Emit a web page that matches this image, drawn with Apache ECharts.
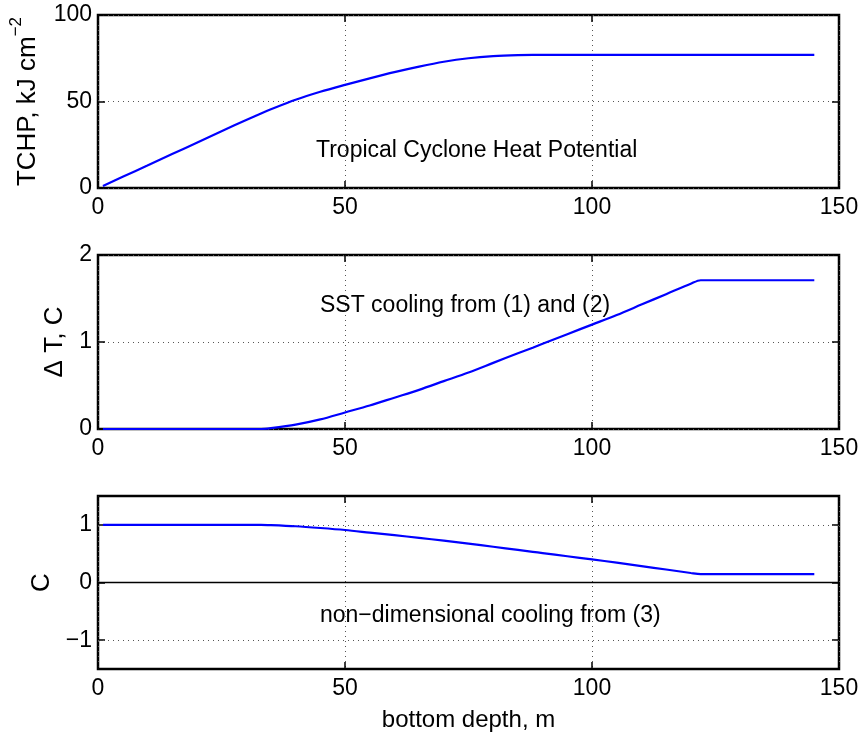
<!DOCTYPE html>
<html>
<head>
<meta charset="utf-8">
<title>TCHP / SST cooling</title>
<script src="https://cdn.jsdelivr.net/npm/echarts@6.0.0/dist/echarts.min.js"></script>
<style>
  html, body { margin: 0; padding: 0; background: #fff; }
  #chart { width: 862px; height: 736px; }
</style>
</head>
<body>
<div id="chart"></div>
<script>
// bottom depth, m (same x for all three panels)
const depth = [1, 5, 10, 15, 20, 25, 30, 33, 35, 40, 45, 50, 55, 60, 65, 70, 75, 80, 85, 88, 90, 95,
  100, 105, 110, 115, 120, 122, 125, 130, 135, 140, 145]
// top panel: TCHP, kJ cm^-2
const tchp = [1.2, 6.5, 13, 19.6, 26.2, 32.8, 39.3, 43.1, 45.5, 51.0, 55.6, 59.6, 63.4, 67.0, 70.2, 73.0, 75.0,
  76.2, 76.8, 76.9, 76.9, 76.9, 76.9, 76.9, 76.9, 76.9, 76.9, 76.9, 76.9, 76.9, 76.9, 76.9, 76.9]
// middle panel: delta T, C
const deltaT = [0, 0, 0, 0, 0, 0, 0, 0, 0.01, 0.05, 0.11, 0.19, 0.27, 0.36, 0.45, 0.55, 0.65,
  0.76, 0.87, 0.935, 0.98, 1.09, 1.2, 1.31, 1.43, 1.55, 1.67, 1.71, 1.71, 1.71, 1.71, 1.71, 1.71]
// bottom panel: non-dimensional cooling C
const coolC = [1, 1, 1, 1, 1, 1, 1, 1, 0.995, 0.975, 0.945, 0.91, 0.865, 0.82, 0.775, 0.725, 0.675,
  0.62, 0.565, 0.532, 0.51, 0.455, 0.4, 0.345, 0.285, 0.225, 0.165, 0.145, 0.145, 0.145, 0.145, 0.145, 0.145]

// tick labels
const xTicks = [0, 50, 100, 150]
const yTicks = [[0, 50, 100], [0, 1, 2], [-1, 0, 1]]
const yRange = [[0, 100], [0, 2], [-1.5, 1.5]]

const texts = ['Tropical Cyclone Heat Potential', 'SST cooling from (1) and (2)', 'non\u2212dimensional cooling from (3)']

const FONT = 'Liberation Sans'
const grids = [
  { left: 98, right: 23, top: 15, height: 173 },
  { left: 98, right: 23, top: 255, height: 174 },
  { left: 98, right: 23, top: 496, height: 173 }
]

function fmt(v) {
  return v < 0 ? '\u2212' + (-v) : String(v)
}

const chart = echarts.init(document.getElementById('chart'))

const xAxis = []
const yAxis = []
const series = []
const dotted = { show: true, lineStyle: { color: '#555', width: 1, type: [1, 4] } }
const tick = { show: true, inside: true, length: 7, lineStyle: { color: '#000', width: 1.5 } }

grids.forEach((g, i) => {
  // bottom x axis with labels
  xAxis.push({
    gridIndex: i, type: 'value', min: 0, max: 150,
    axisTick: { ...tick, customValues: xTicks },
    axisLabel: { customValues: xTicks, color: '#000', fontSize: 23, fontFamily: FONT, margin: 8 },
    axisLine: { show: false, onZero: false },
    splitLine: dotted,
    name: i === 2 ? 'bottom depth, m' : '',
    nameLocation: 'middle', nameGap: 39,
    nameTextStyle: { color: '#000', fontSize: 24, fontFamily: FONT }
  })
  // top x axis, ticks only
  xAxis.push({
    gridIndex: i, type: 'value', position: 'top', min: 0, max: 150,
    axisTick: { ...tick, customValues: xTicks },
    axisLabel: { show: false }, axisLine: { show: false, onZero: false }, splitLine: { show: false }
  })
  yAxis.push({
    gridIndex: i, type: 'value', min: yRange[i][0], max: yRange[i][1],
    axisTick: { ...tick, customValues: yTicks[i] },
    axisLabel: { customValues: yTicks[i], formatter: fmt, color: '#000', fontSize: 23, fontFamily: FONT, margin: 6 },
    axisLine: { show: false, onZero: false },
    splitLine: { show: i !== 2, lineStyle: dotted.lineStyle },
    nameLocation: 'middle', nameRotate: 90,
    nameGap: [50, 27, 42][i],
    name: ['{a|TCHP, kJ cm}{b|\u22122}', '\u0394 T, C', 'C'][i],
    nameTextStyle: {
      color: '#000', fontSize: 26, fontFamily: FONT,
      rich: {
        a: { fontSize: 26, fontFamily: FONT, color: '#000', lineHeight: 40 },
        b: { fontSize: 17, fontFamily: FONT, color: '#000', lineHeight: 20, verticalAlign: 'top' }
      }
    }
  })
  yAxis.push({
    gridIndex: i, type: 'value', position: 'right', min: yRange[i][0], max: yRange[i][1],
    axisTick: { ...tick, customValues: yTicks[i] },
    axisLabel: { show: false }, axisLine: { show: false, onZero: false }, splitLine: { show: false }
  })
})

const values = [tchp, deltaT, coolC]
values.forEach((vals, i) => {
  const s = {
    type: 'line',
    xAxisIndex: i * 2,
    yAxisIndex: i * 2,
    data: depth.map((d, k) => [d, vals[k]]),
    showSymbol: false,
    smooth: 0.3,
    lineStyle: { color: '#0000ff', width: 2.2 },
    z: 5
  }
  if (i === 2) {
    // grid lines at -1 / 1 and the zero line
    s.markLine = {
      silent: true, symbol: 'none', label: { show: false },
      data: [
        { yAxis: 1, lineStyle: { color: '#555', width: 1, type: [1, 4] } },
        { yAxis: -1, lineStyle: { color: '#555', width: 1, type: [1, 4] } },
        { yAxis: 0, lineStyle: { color: '#000', width: 1.3, type: 'solid' } }
      ]
    }
  }
  series.push(s)
})

const option = {
  animation: false,
  backgroundColor: '#fff',
  grid: grids.map(g => ({ ...g, show: true, borderColor: '#000', borderWidth: 2.5, backgroundColor: 'transparent' })),
  xAxis: xAxis,
  yAxis: yAxis,
  series: series,
  graphic: [
    { type: 'text', x: 316, y: 151, style: { text: texts[0], fontSize: 23, fontFamily: FONT, fill: '#000', verticalAlign: 'middle' } },
    { type: 'text', x: 320, y: 306, style: { text: texts[1], fontSize: 23, fontFamily: FONT, fill: '#000', verticalAlign: 'middle' } },
    { type: 'text', x: 320, y: 616, style: { text: texts[2], fontSize: 23, fontFamily: FONT, fill: '#000', verticalAlign: 'middle' } }
  ]
}
chart.setOption(option)
</script>
</body>
</html>
